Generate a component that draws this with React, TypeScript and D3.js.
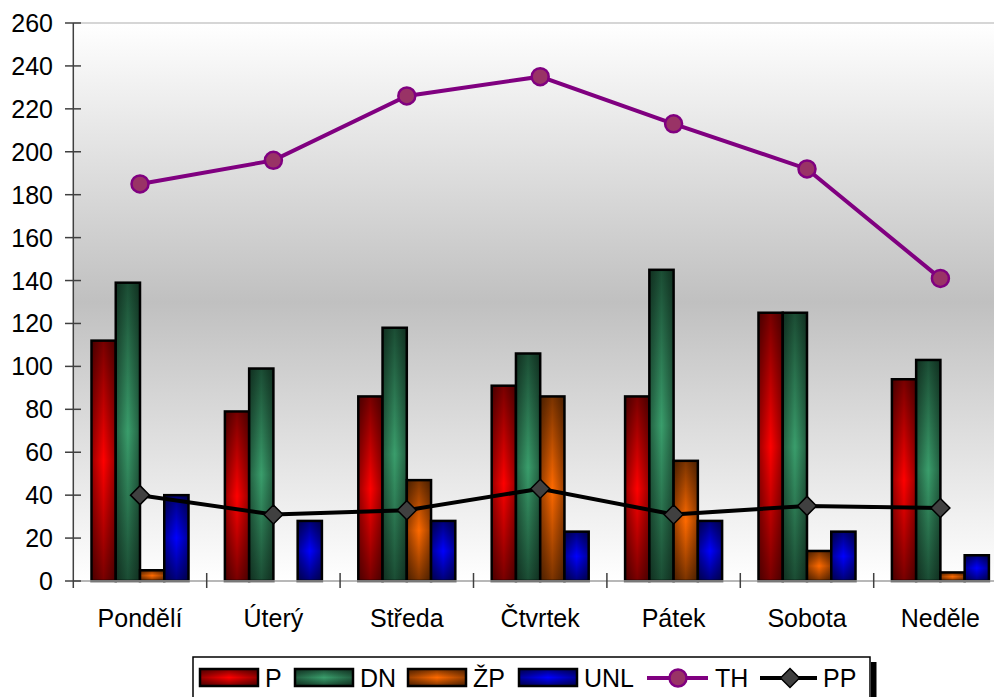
import React from "react";
import * as d3 from "d3";

const categories = ["Pondělí", "Úterý", "Středa", "Čtvrtek", "Pátek", "Sobota", "Neděle"];
const seriesP = [112, 79, 86, 91, 86, 125, 94];
const seriesDN = [139, 99, 118, 106, 145, 125, 103];
const seriesZP = [5, 0, 47, 86, 56, 14, 4];
const seriesUNL = [40, 28, 28, 23, 28, 23, 12];
const seriesTH = [185, 196, 226, 235, 213, 192, 141];
const seriesPP = [40, 31, 33, 43, 31, 35, 34];
const yTicks = [0, 20, 40, 60, 80, 100, 120, 140, 160, 180, 200, 220, 240, 260];

const barSeries = [
  { name: "P", values: seriesP, dark: "#780000", bright: "#ff0000" },
  { name: "DN", values: seriesDN, dark: "#1b4d34", bright: "#3a9e6c" },
  { name: "ŽP", values: seriesZP, dark: "#7a3300", bright: "#ff6a00" },
  { name: "UNL", values: seriesUNL, dark: "#000078", bright: "#0000ff" },
];

const W = 994;
const H = 697;
const FONT = "Liberation Sans, Arial, sans-serif";

export default function App() {
  const left = 73.3;
  const bandW = 133.4;
  const x = d3
    .scaleBand<string>()
    .domain(categories)
    .range([left, left + bandW * categories.length])
    .paddingInner(0)
    .paddingOuter(0);
  const y = d3.scaleLinear().domain([0, 260]).range([581, 23]);
  const barW = x.bandwidth() / 5.5;
  const groupOffset = (x.bandwidth() - barW * 4) / 2;
  const cx = (i: number) => (x(categories[i]) as number) + x.bandwidth() / 2;

  const line = d3
    .line<number>()
    .x((_, i) => cx(i))
    .y((d) => y(d));

  const diamond = (px: number, py: number, s: number) =>
    `M${px},${py - s}L${px + s},${py}L${px},${py + s}L${px - s},${py}Z`;

  const legendItems = [
    { type: "bar", s: 0, sx: 200, tx: 265, label: "P" },
    { type: "bar", s: 1, sx: 295, tx: 360, label: "DN" },
    { type: "bar", s: 2, sx: 408, tx: 473, label: "ŽP" },
    { type: "bar", s: 3, sx: 519, tx: 584, label: "UNL" },
  ];

  return (
    <svg
      width={W}
      height={H}
      style={{ position: "absolute", left: 0, top: 0, background: "#fff" }}
      fontFamily={FONT}
    >
      <defs>
        <linearGradient id="bg" x1="0" y1="0" x2="0" y2="1">
          <stop offset="0" stopColor="#ffffff" />
          <stop offset="0.5" stopColor="#c0c0c0" />
          <stop offset="1" stopColor="#ffffff" />
        </linearGradient>
        {barSeries.map((s, i) => (
          <linearGradient key={i} id={`bv${i}`} x1="0" y1="0" x2="0" y2="1">
            <stop offset="0" stopColor={s.dark} />
            <stop offset="0.5" stopColor={s.bright} />
            <stop offset="1" stopColor={s.dark} />
          </linearGradient>
        ))}
        <linearGradient id="hshade" x1="0" y1="0" x2="1" y2="0">
          <stop offset="0" stopColor="#000" stopOpacity="0.4" />
          <stop offset="0.5" stopColor="#000" stopOpacity="0" />
          <stop offset="1" stopColor="#000" stopOpacity="0.4" />
        </linearGradient>
      </defs>

      {/* plot background */}
      <rect x={left} y={y(260)} width={W - left} height={y(0) - y(260)} fill="url(#bg)" />
      <line x1={left} x2={W} y1={y(260)} y2={y(260)} stroke="#c8c8c8" strokeWidth={1.5} />

      {/* bars */}
      {barSeries.map((s, si) =>
        s.values.map((v, i) => {
          if (v <= 0) return null;
          const bx = (x(categories[i]) as number) + groupOffset + si * barW;
          const by = y(v);
          const bh = y(0) - y(v);
          return (
            <g key={`${si}-${i}`}>
              <rect x={bx} y={by} width={barW} height={bh} fill={`url(#bv${si})`} />
              <rect x={bx} y={by} width={barW} height={bh} fill="url(#hshade)" />
              <rect x={bx} y={by} width={barW} height={bh} fill="none" stroke="#000" strokeWidth={2.5} />
            </g>
          );
        })
      )}

      {/* axes */}
      <line x1={left} x2={W} y1={y(0)} y2={y(0)} stroke="#a0a0a0" strokeWidth={1.5} />
      <line x1={left} x2={left} y1={y(260)} y2={y(0) + 7} stroke="#404040" strokeWidth={1.5} />
      {yTicks.map((t) => (
        <g key={t}>
          <line x1={65} x2={81} y1={y(t)} y2={y(t)} stroke="#404040" strokeWidth={1.5} />
          <text x={53} y={y(t) + 9} textAnchor="end" fontSize={25} fill="#000">
            {t}
          </text>
        </g>
      ))}
      {categories.map((c, i) =>
        i > 0 ? (
          <line
            key={c}
            x1={x(c) as number}
            x2={x(c) as number}
            y1={y(0) - 8}
            y2={y(0) + 7}
            stroke="#404040"
            strokeWidth={1.5}
          />
        ) : null
      )}
      {categories.map((c, i) => (
        <text key={c} x={cx(i)} y={627} textAnchor="middle" fontSize={25} fill="#000">
          {c}
        </text>
      ))}

      {/* lines */}
      <path d={line(seriesTH) as string} fill="none" stroke="#800080" strokeWidth={4} />
      {seriesTH.map((v, i) => (
        <circle key={i} cx={cx(i)} cy={y(v)} r={8.5} fill="#993366" stroke="#800080" strokeWidth={2.5} />
      ))}
      <path d={line(seriesPP) as string} fill="none" stroke="#000" strokeWidth={4} />
      {seriesPP.map((v, i) => (
        <path key={i} d={diamond(cx(i), y(v), 9.5)} fill="#404040" stroke="#000" strokeWidth={1.5} />
      ))}

      {/* legend */}
      <rect x={871} y={662} width={5.5} height={H - 662} fill="#000" />
      <rect x={193} y={657} width={677} height={60} fill="#fff" stroke="#000" strokeWidth={1.5} />
      {legendItems.map((it) => (
        <g key={it.label}>
          <rect x={it.sx} y={669} width={58} height={17} fill={`url(#bv${it.s})`} />
          <rect x={it.sx} y={669} width={58} height={17} fill="url(#hshade)" />
          <rect x={it.sx} y={669} width={58} height={17} fill="none" stroke="#000" strokeWidth={2.5} />
          <text x={it.tx} y={687} fontSize={25} fill="#000">
            {it.label}
          </text>
        </g>
      ))}
      <line x1={647} x2={708} y1={678} y2={678} stroke="#800080" strokeWidth={4} />
      <circle cx={678} cy={678} r={8.5} fill="#993366" stroke="#800080" strokeWidth={2.5} />
      <text x={715} y={687} fontSize={25} fill="#000">
        TH
      </text>
      <line x1={760} x2={817} y1={678} y2={678} stroke="#000" strokeWidth={4} />
      <path d={diamond(790, 678, 9.5)} fill="#404040" stroke="#000" strokeWidth={1.5} />
      <text x={823} y={687} fontSize={25} fill="#000">
        PP
      </text>
    </svg>
  );
}
